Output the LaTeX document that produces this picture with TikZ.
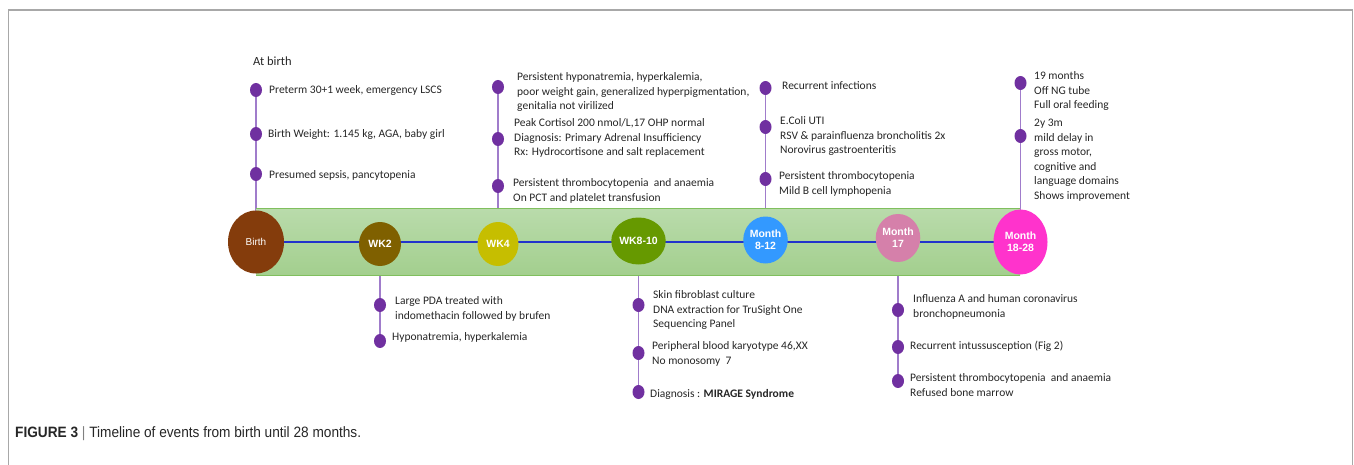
\documentclass[tikz,border=0pt]{standalone}
\usepackage{fontspec}
\setmainfont{Carlito}
\newfontfamily\capfont{Liberation Sans}
\newfontfamily\capnarrow[FakeStretch=0.91]{Liberation Sans}
\usetikzlibrary{shapes.geometric}
\pgfdeclarelayer{stemlayer}
\pgfdeclarelayer{bandlayer}
\pgfsetlayers{stemlayer,bandlayer,main}
\definecolor{dotpurple}{HTML}{7030A0}
\definecolor{stempurple}{HTML}{A07CCB}
\definecolor{framegray}{HTML}{A8A8A8}
\definecolor{bandtop}{HTML}{B9DBAB}
\definecolor{bandbot}{HTML}{A3CF8E}
\definecolor{bandline}{HTML}{80BF5E}
\definecolor{axisblue}{HTML}{2233CC}
\definecolor{cbirth}{HTML}{843C0C}
\definecolor{cwktwo}{HTML}{7F6000}
\definecolor{cwkfour}{HTML}{C6BE00}
\definecolor{cwkeight}{HTML}{669900}
\definecolor{cmeight}{HTML}{3399FF}
\definecolor{cmseventeen}{HTML}{D580AA}
\definecolor{cmeighteen}{HTML}{FF33CC}
\begin{document}
\begin{tikzpicture}[x=1pt,y=-1pt,
  milestone/.style={ellipse, inner sep=0pt, text=white, align=center,
    font=\capfont\bfseries\fontsize{10.5}{12}\selectfont},
  dot/.style={ellipse, fill=dotpurple, minimum width=12pt, minimum height=14pt, inner sep=0pt},
  evt/.style={anchor=west, align=left, inner sep=0pt, text=black!85,
    font=\fontsize{11.5}{14.5}\selectfont},
  stem/.style={draw=stempurple, line width=1.2pt}]
\useasboundingbox (0,0) rectangle (1354,465);
\draw[framegray, line width=1.3pt] (8.5,470) -- (8.5,10) -- (1352.5,10) -- (1352.5,470);

% milestones
\node[milestone, fill=cbirth, minimum width=56pt, minimum height=63pt, font=\capfont\fontsize{10}{12}\selectfont] (birth) at (256,242) {Birth};
\node[milestone, fill=cwktwo, minimum width=42pt, minimum height=44pt] (wk2) at (380,244) {WK2};
\node[milestone, fill=cwkfour, minimum width=41pt, minimum height=44pt] (wk4) at (498,244) {WK4};
\node[milestone, fill=cwkeight, minimum width=41pt, minimum height=47pt] (wk8) at (638.5,241) {WK8-10};
\node[milestone, fill=cmeight, minimum width=41pt, minimum height=47pt] (m8) at (765.5,240) {Month\\8-12};
\node[milestone, fill=cmseventeen, minimum width=42pt, minimum height=48pt] (m17) at (898,238) {Month\\17};
\node[milestone, fill=cmeighteen, minimum width=54pt, minimum height=65pt] (m18) at (1020.5,242) {Month\\18-28};

% band and axis
\begin{pgfonlayer}{bandlayer}
\shade[top color=bandtop, bottom color=bandbot] (256,209) rectangle (1020,275);
\draw[bandline, line width=1pt] (256,209) -- (1020,209);
\draw[bandline, line width=1pt] (256,275) -- (1020,275);
\draw[axisblue, line width=1.6pt] (birth.center) -- (m18.center);
\end{pgfonlayer}

% At birth
\node[evt, font=\fontsize{12.5}{14.5}\selectfont] (tbirth) at (253,61) {At birth};
\node[dot] (b1) at (256,90) {};
\node[dot] (b2) at (256,134) {};
\node[dot] (b3) at (256,174) {};
\node[evt] (tb1) at (269,90) {Preterm 30+1 week, emergency LSCS};
\node[evt] (tb2) at (268,134) {Birth Weight: 1.145 kg, AGA, baby girl};
\node[evt] (tb3) at (269,175) {Presumed sepsis, pancytopenia};

% WK4
\node[dot] (w4a) at (498,87) {};
\node[dot] (w4b) at (498,139) {};
\node[dot] (w4c) at (498,186) {};
\node[evt] (tw4a) at (517,92) {Persistent hyponatremia, hyperkalemia,\\poor weight gain, generalized hyperpigmentation,\\genitalia not virilized};
\node[evt] (tw4b) at (514,138) {Peak Cortisol 200 nmol/L,17 OHP normal\\Diagnosis: Primary Adrenal Insufficiency\\Rx: Hydrocortisone and salt replacement};
\node[evt] (tw4c) at (513,191) {Persistent thrombocytopenia\ \ and anaemia\\On PCT and platelet transfusion};

% Month 8-12
\node[dot] (m8a) at (765.5,88) {};
\node[dot] (m8b) at (765.5,127) {};
\node[dot] (m8c) at (765.5,179) {};
\node[evt] (tm8a) at (782,86) {Recurrent infections};
\node[evt] (tm8b) at (780,136) {E.Coli UTI\\RSV \& parainfluenza broncholitis 2x\\Norovirus gastroenteritis};
\node[evt] (tm8c) at (779,184) {Persistent thrombocytopenia\\Mild B cell lymphopenia};

% Month 18-28
\node[dot] (m18a) at (1020.5,83) {};
\node[dot] (m18b) at (1020.5,136) {};
\node[evt] (tm18a) at (1034,91) {19 months\\Off NG tube\\Full oral feeding};
\node[evt] (tm18b) at (1034,160) {2y 3m\\mild delay in\\gross motor,\\cognitive and\\language domains\\Shows improvement};

% WK2 bottom
\node[dot] (w2a) at (380,305) {};
\node[dot] (w2b) at (380,341) {};
\node[evt] (tw2a) at (395,309) {Large PDA treated with\\indomethacin followed by brufen};
\node[evt] (tw2b) at (392,337) {Hyponatremia, hyperkalemia};

% WK8-10 bottom
\node[dot] (w8a) at (638.5,305) {};
\node[dot] (w8b) at (638.5,353) {};
\node[dot] (w8c) at (638.5,392) {};
\node[evt] (tw8a) at (653,310) {Skin fibroblast culture\\DNA extraction for TruSight One\\Sequencing Panel};
\node[evt] (tw8b) at (652,354) {Peripheral blood karyotype 46,XX\\No monosomy\ \ 7};
\node[evt] (tw8c) at (650,394) {Diagnosis : \textbf{MIRAGE Syndrome}};

% Month 17 bottom
\node[dot] (m17a) at (898,310) {};
\node[dot] (m17b) at (898,347) {};
\node[dot] (m17c) at (898,381) {};
\node[evt] (tm17a) at (913,307) {Influenza A and human coronavirus\\bronchopneumonia};
\node[evt] (tm17b) at (910,346) {Recurrent intussusception (Fig 2)};
\node[evt] (tm17c) at (910,385) {Persistent thrombocytopenia\ \ and anaemia\\Refused bone marrow};

% stems
\begin{pgfonlayer}{stemlayer}
\draw[stem] (b1.center) -- (b2.center) -- (b3.center) -- (birth.center);
\draw[stem] (w4a.center) -- (w4b.center) -- (w4c.center) -- (wk4.center);
\draw[stem] (m8a.center) -- (m8b.center) -- (m8c.center) -- (m8.center);
\draw[stem] (m18a.center) -- (m18b.center) -- (m18.center);
\draw[stem] (wk2.center) -- (w2a.center) -- (w2b.center);
\draw[stem] (wk8.center) -- (w8a.center) -- (w8b.center) -- (w8c.center);
\draw[stem] (m17.center) -- (m17a.center) -- (m17b.center) -- (m17c.center);
\end{pgfonlayer}

% caption
\node[anchor=west, inner sep=0pt, font=\capnarrow\fontsize{15}{17}\selectfont, text=black!85] (cap) at (15,434)
  {\textbf{FIGURE 3}\ \textcolor{black!50}{|}\ Timeline of events from birth until 28 months.};
\end{tikzpicture}
\end{document}
